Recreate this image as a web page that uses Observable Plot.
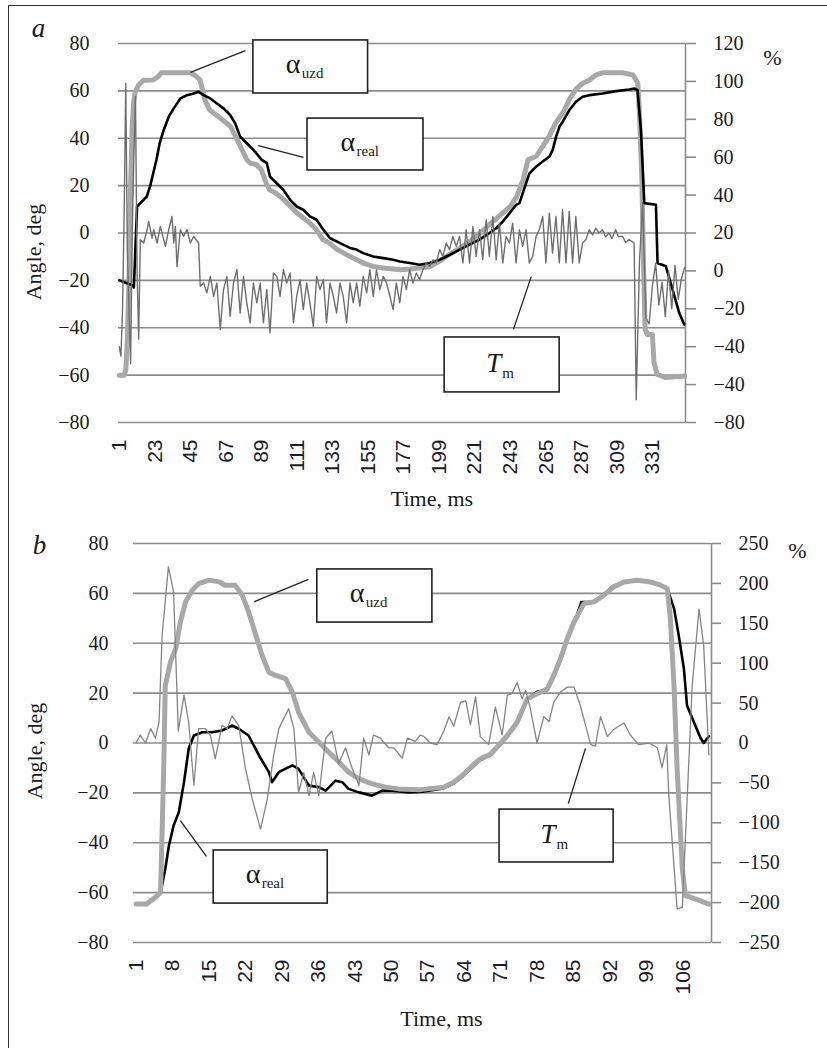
<!DOCTYPE html>
<html><head><meta charset="utf-8">
<script src="https://cdn.jsdelivr.net/npm/d3@7"></script>
<script src="https://cdn.jsdelivr.net/npm/@observablehq/plot@0.6"></script>
<style>
body{margin:0;background:#fff;}
#fig{position:relative;width:827px;height:1048px;overflow:hidden;background:#fff;}
#border{position:absolute;left:8px;top:5px;width:900px;height:1100px;border-left:1.5px solid #333;border-top:1.5px solid #333;pointer-events:none;}
.panel{position:absolute;left:0;}
</style></head><body>
<div id="fig"><div id="pa" class="panel" style="top:0"></div><div id="pb" class="panel" style="top:515px"></div><div id="border"></div></div>
<script>
// ---------- Panel a data ----------
const aTicksX = [1,23,45,67,89,111,133,155,177,199,221,243,265,287,309,331];
const leftTicks = [-80,-60,-40,-20,0,20,40,60,80];
const leftLabels = ["−80","−60","−40","−20","0","20","40","60","80"];
const aRightVals = [120,100,80,60,40,20,0,-20,-40,-60,-80];
const aRightLabels = ["120","100","80","60","40","20","0","−20","−40","−40","−80"];

const aUzdT = [1,4,5,6,7,8,9,10,11,13,16,22,25,27,45,48,51,52,54,57,61,65,70,72,74,77,80,82,86,89,92,94,98,103,107,111,115,119,123,127,131,136,140,144,152,158,164,175,181,193,199,205,212,218,224,230,236,243,247,251,254,259,263,267,271,276,280,284,288,292,296,300,313,319,322,323,324.5,325.5,326.5,328,331,332,334,339,351];
const aUzdV = [-60,-60,-58,-45,-20,20,45,56,60,62.5,64.5,64.6,66,67.6,67.6,66.5,64.6,61.8,56.2,51.9,49.8,47.7,44.9,42.1,39.3,35.1,30.9,29.5,28.8,26.6,21,18.2,16.8,14,11.2,8.4,6.3,4.2,1.4,-2.8,-4.2,-7,-8.5,-9.9,-12.7,-14.1,-14.8,-15.5,-15.2,-14.3,-12,-9.2,-6.3,-3.5,-0.3,3.5,7,11.2,15.4,22.4,30.9,32.3,36.5,40.7,46.3,51.2,56.8,61,63.2,64.6,66.7,67.6,67.6,66.7,63.2,50.5,22.4,-12.7,-40.7,-42.9,-42.9,-54.8,-59.7,-61,-60.4];

const aRealT = [1,5,9,10,12,14,18,20,22,24,26,28.5,31.6,34.7,38.8,42.9,47,50.1,53.2,57.3,61.4,65.5,69.6,72.7,75.8,79.9,84,89.2,92.3,94.3,98.4,102.6,106.7,110.8,114.9,119,123.1,127.3,131.4,135.5,139.6,143.8,147.8,152,158.2,164.4,170.6,174.6,180.8,186.9,193.1,199.3,205.5,211.7,217.8,224,230.2,234.5,238.5,242.6,246.7,248.7,252.8,254.9,259,263.1,267.3,269.3,271.4,273.5,275.5,279.6,283.7,287.8,292,300.2,308.5,316.7,319.8,321.8,323.9,326,333.2,334.2,339.3,343.5,347.6,350.7];
const aRealV = [-20,-21,-22,-23,11.2,12.6,15.4,19.6,25.2,30.9,37.9,43.5,49.1,52.6,56.8,58.2,58.9,59.6,58.2,56.8,54.7,52.6,49.8,46.3,40.7,37.9,35.1,30.9,29.5,23.8,21,18.2,14,11.2,9.8,7,5.6,1.4,-2.1,-3.5,-4.9,-6.3,-7,-8.5,-9.9,-10.6,-11.3,-12,-12.7,-13.4,-12.7,-11.3,-9.2,-7,-4.9,-2.8,0,2.1,4.9,8.4,11.9,12.6,21,25.2,28,30.2,32.3,35.1,40.7,44.9,47,51.9,55.4,57.5,58.2,58.9,59.9,60.6,61,60.3,43.5,12.6,11.9,-12.7,-14,-23.9,-33.7,-38.6];

const aTmT = [1,2,3,4,5,6,7,8,9,10,11,12,13,14,16.1,18.2,19.2,21.3,22.3,24.4,26.4,28.5,29.5,31.6,33.6,34.7,35.7,36.7,38.8,40.8,42.9,45,47,50.1,51.1,53.2,55.2,57.3,59.4,61.4,63.5,65.5,67.6,69.6,71.7,73.8,75.8,77.9,79.9,82,84,86.1,88.2,90.2,92.3,94.3,96.4,98.5,100.5,102.6,104.6,106.7,108.8,110.8,112.9,114.9,117,119,121.1,123.2,125.2,127.3,129.3,131.4,133.5,135.5,137.6,139.6,141.7,143.8,145.8,147.9,149.9,152,154.1,156.1,158.2,160.2,162.3,164.4,166.4,168.5,170.5,172.5,174.6,176.6,178.7,180.7,182.8,184.9,186.9,189,191,193.1,195.2,197.2,199.3,201.3,203.4,205.4,207.5,209.6,211.6,213.7,215.7,217.8,219.9,221.9,224,226,228.1,230.1,232.2,234.3,236.3,238.4,240.4,242.5,244.5,246.6,248.7,250.7,252.8,254.8,256.9,259,261,263.1,265.1,267.2,269.2,271.3,273.4,275.4,277.5,279.5,281.6,283.6,285.7,287.8,289.8,291.9,294,296,298,300.1,302,304.2,306,308.3,310,312.5,314.5,316.6,319.7,321,323,325,327,329,331,333,335,337,339,341,343,345,347,349,351];
const aTmV = [-40,-45,-20,30,99,10,-20,-49,20,60,92,0,-36,16.5,14.7,21.7,26.1,17.3,21.7,14.7,23.5,16.5,13,21.7,28.7,14.7,23.5,2.4,21.7,18.2,21.7,14.7,18.2,14.7,-8.1,-6.4,-11.6,-2.9,-13.4,-6.4,-30.9,-9.9,-2.9,-23.9,-6.4,0.7,-22.2,-2.9,-16.9,-27.4,-6.4,-16.9,-6.4,-27.4,-9.9,-32.7,-1.1,-2.9,-13.4,0.7,-6.4,-1.1,-27.4,-13.4,-4.6,-20.4,-6.4,-16.9,-29.2,-2.9,-9.9,-4.6,-27.4,-6.4,-13.4,-22.2,-6.4,-13.4,-27.4,-6.4,-16.9,-6.4,-18.6,-2.9,-11.6,0.7,-13.4,0.7,-9.9,-2.9,-6.4,-13.4,-20.4,-6.4,-16.9,-2.9,-9.9,0.7,-6.4,-1.1,-4.6,0.7,4.2,2.4,5.9,4.2,11.2,7.7,14.7,11.2,18.2,13,18.2,4.2,21.7,4.2,23.5,7.7,21.7,5.9,27,7.7,28.7,5.9,25.2,4.2,18.2,14.7,25.2,4.2,21.7,13,21.7,4.2,7.7,18.2,21.7,28.7,4.2,30.5,9.4,28.7,4.2,32.3,4.2,31.4,4.2,28.7,4.2,14.7,16.5,21.7,19,22.6,20,21.7,18,20,17,21.7,18,18.2,15,16.5,14.7,-68,5,36,-25,-28,-8,4,-18,-6,-24,0,-20,3,-15,-4,2];

// ---------- Panel b data ----------
const bTicksX = [1,8,15,22,29,36,43,50,57,64,71,78,85,92,99,106];
const bRightVals = [250,200,150,100,50,0,-50,-100,-150,-200,-250];
const bRightLabels = ["250","200","150","100","50","0","−50","−100","−150","−200","−250"];

const bUzdT = [1,3,4.7,5.7,6.3,6.6,7.6,8.6,9.5,10.5,11.8,13,15,17,18,20,21.4,22.6,24,25.2,26.5,27.8,29.7,31,32.2,34.2,36.1,38,40,41.8,43.8,46.3,48.9,51.4,55.6,56.9,60.1,62,64,65.9,67.1,69.1,70.3,72.3,74.2,76.1,78,80,81.2,82.5,83.8,85.1,87,88.9,90.8,92.7,94.7,97.2,99.8,101.7,103,103.6,104.3,104.9,105.9,106.5,107.5,109.4,111];
const bUzdV = [-64.6,-64.6,-61.9,-59.9,-10.4,23.1,32.5,37.8,48.5,56.6,61.3,63.9,65.3,64.6,63.3,63.3,59.2,52.6,43.2,35.1,28.4,27.1,25.8,20.4,12.4,4.3,0.3,-3.7,-7.7,-11.7,-14.4,-16.4,-17.7,-18.4,-18.7,-18.4,-17.7,-15.7,-12.4,-8.4,-6.4,-4.4,-1.7,3,8.4,17.7,19.7,21.8,27.1,33.8,41.8,48.5,55.9,56.6,59.2,62.6,64.6,65.3,64.6,63.3,61.9,49.9,23.1,-10.4,-50.5,-61.2,-61.9,-63.3,-64.6];

const bRealT = [1,3,4.7,5.7,6.6,7.3,8.2,9.2,10.2,11.1,12.1,13.7,15.6,17.5,19.4,20.7,22.6,24.6,26.5,27.1,28.4,31,32.2,34.2,36.1,37.4,39.3,40.6,41.8,43.8,46.3,48.3,50.2,53.4,56,60,62,64,66,67,69,70.3,72.3,74.2,76,78,80,81.2,82.5,83.8,85.1,86.5,88.9,90.8,92.7,94.7,97.2,99.8,101.7,103,104.3,105.2,106.2,106.8,108.1,109.4,110,111];
const bRealV = [-64.6,-64.6,-61.9,-60,-50.5,-41.2,-33.1,-27.8,-15.7,-2.3,3,4.3,4.3,5,7,5.7,3,-5,-11.7,-15.7,-11.7,-9,-10.4,-17.1,-17.7,-19.1,-15.1,-15.7,-18.4,-19.8,-21.1,-19.1,-19.1,-19.8,-19.5,-18.2,-16.2,-12.9,-8.9,-6.9,-4.9,-2.2,2.5,7.9,17.5,20.5,21.3,26.6,33.3,41.3,48,56.5,56.6,59.7,63.1,64.6,65.3,64.6,63.3,61.9,54,43.2,29.8,15,8.4,2,0,2.7];

const bTmT = [1,1.8,2.8,3.8,4.7,5.4,6,7.2,8.2,9.1,10.2,11.1,12.1,13,14.3,15.3,16.2,17.5,18.5,19.4,20.7,22,23.3,24.9,26.2,27.4,28.4,30.3,31.3,32.2,33.2,34.2,35.1,36.1,37.4,38.6,39.9,41.2,42.5,43.8,44.7,45.7,46.6,47.9,49.5,50.5,52.1,53.1,54.6,55.6,56.3,57.5,58.8,60.1,61.1,62,63.3,64.3,65.2,66.2,67.1,68.7,70,71.3,72.3,73.2,74.2,75.1,75.8,76.7,78,79.3,80.3,81.2,82.5,83.8,85.1,86.3,88.3,89.2,90.2,91.5,92.7,94.7,95.9,97.5,99.5,101.1,102,102.9,103.3,104.9,105.9,106.8,107.8,109.1,110,111];
const bTmV = [0,10,0,18,6,26,135,221,189,15,60,26,-53,18,18,9,-20,22,18,34,22,-32,-70,-108,-70,-16,18,43,18,-62,-37,-66,-37,-66,6,15,-26,-6,-32,-53,6,-15,10,6,-6,-6,-19,6,2,10,8,0,-2,15,33,21,51,53,23,58,8,-2,45,10,60,62,76,55,66,43,0,33,27,51,64,70,70,47,-2,-4,33,8,17,25,10,-2,0,-6,-31,-2,-66,-208,-206,-74,72,168,122,-15];

// ---------- Callouts (data coordinates) ----------
const notesA = [
  {main:"α", sub:"uzd", italic:false, bx1:84, bx2:155, by1:81.3, by2:58.9, lx1:79, ly1:77, lx2:45, ly2:67.8},
  {main:"α", sub:"real", italic:false, bx1:117.5, bx2:189.3, by1:48.3, by2:26.4, lx1:115, ly1:31.9, lx2:87, ly2:36.9},
  {main:"T", sub:"m", italic:true, bx1:202.4, bx2:273.6, by1:-44.1, by2:-67.3, lx1:245, ly1:-40.7, lx2:256, ly2:-18.4}
];
const notesB = [
  {main:"α", sub:"uzd", italic:false, bx1:35.8, bx2:57.9, by1:69.6, by2:48.3, lx1:34.1, ly1:65.6, lx2:23.7, ly2:56.7},
  {main:"α", sub:"real", italic:false, bx1:15.9, bx2:37.8, by1:-43.1, by2:-64.4, lx1:14.5, ly1:-45.5, lx2:9.5, ly2:-31.1},
  {main:"T", sub:"m", italic:true, bx1:70.8, bx2:92.7, by1:-26.7, by2:-47.9, lx1:87.3, ly1:-2.2, lx2:84, ly2:-24.3}
];

const SERIF = "'Liberation Serif', 'DejaVu Serif', serif";
const SANS = "'Liberation Sans', Arial, sans-serif";
const GRID = "#8c8c8c";
const INK = "#1a1a1a";

function makePanel(c) {
  const rightPos = c.rightVals.map(c.toLeft);
  const fmtRight = d => c.rightLabels[d3.minIndex(rightPos, p => Math.abs(p - d))];
  const fmtLeft = d => leftLabels[d3.minIndex(leftTicks, p => Math.abs(p - d))];
  const cx = d => (d.bx1 + d.bx2) / 2, cy = d => (d.by1 + d.by2) / 2;
  const isGreek = d => !d.italic, isItal = d => d.italic;
  const uzdLine = Plot.line(c.uzdV, {x: c.uzdT, y: c.uzdV, stroke: "#a8a8a8", strokeWidth: 5, strokeLinejoin: "round"});
  const realLine = Plot.line(c.realV, {x: c.realT, y: c.realV, stroke: "#000", strokeWidth: 2.6, strokeLinejoin: "round"});
  return Plot.plot({
    width: 827, height: c.height,
    marginLeft: c.ml, marginRight: c.mr, marginTop: c.mt, marginBottom: c.mb,
    style: {background: "transparent", fontFamily: SERIF, fontSize: "20px", color: INK},
    x: {domain: c.xDomain, label: null},
    y: {domain: [-80, 80], label: null},
    marks: [
      Plot.gridY(leftTicks, {stroke: GRID, strokeOpacity: 1, strokeWidth: 1.6}),
      Plot.ruleX([c.xDomain[1]], {y1: -80, y2: 80, stroke: GRID, strokeWidth: 1.6}),
      Plot.axisY(leftTicks, {anchor: "left", tickSize: 0, tickPadding: c.leftPad, tickFormat: fmtLeft, fontSize: 20, fontFamily: SERIF, fill: INK}),
      Plot.axisY(rightPos, {anchor: "right", tickSize: c.rTick, tickPadding: 18, tickFormat: fmtRight, stroke: GRID, strokeWidth: 1.6, fontSize: 20, fontFamily: SERIF, fill: INK}),
      Plot.axisX(c.xTicks, {anchor: "bottom", tickSize: 0, tickPadding: 17, tickRotate: -90, fontFamily: SANS, fontSize: 21, fill: "#1c1c2c"}),
      ...(c.grayOnTop ? [realLine, uzdLine] : [uzdLine, realLine]),
      Plot.line(c.tmV, {x: c.tmT, y: c.tmV.map(c.toLeft), stroke: c.tmColor, strokeWidth: c.tmWidth}),
      Plot.link(c.notes, {x1: "lx1", y1: "ly1", x2: "lx2", y2: "ly2", stroke: "#222", strokeWidth: 1.3}),
      Plot.rect(c.notes, {x1: "bx1", x2: "bx2", y1: "by1", y2: "by2", fill: "white", stroke: "#222", strokeWidth: 1.6}),
      Plot.text(c.notes, {filter: isGreek, x: cx, y: cy, text: "main", textAnchor: "start", lineAnchor: "bottom", dx: -25, dy: 6, fontSize: 28, fontFamily: SERIF, fill: INK}),
      Plot.text(c.notes, {filter: isGreek, x: cx, y: cy, text: "sub", textAnchor: "start", lineAnchor: "bottom", dx: -9, dy: 11, fontSize: 15, fontFamily: SERIF, fill: INK}),
      Plot.text(c.notes, {filter: isItal, x: cx, y: cy, text: "main", textAnchor: "start", lineAnchor: "bottom", dx: -16, dy: 7, fontSize: 27, fontStyle: "italic", fontFamily: SERIF, fill: INK}),
      Plot.text(c.notes, {filter: isItal, x: cx, y: cy, text: "sub", textAnchor: "start", lineAnchor: "bottom", dx: 0, dy: 13, fontSize: 15, fontFamily: SERIF, fill: INK}),
      Plot.text(["Angle, deg"], {text: d => d, frameAnchor: "left", textAnchor: "middle", lineAnchor: "middle", rotate: -90, dx: c.yTitleDx, dy: c.yTitleDy, fontSize: 22, fontFamily: SERIF, fill: INK}),
      Plot.text(["Time, ms"], {text: d => d, frameAnchor: "bottom", textAnchor: "middle", lineAnchor: "middle", dx: c.xTitleDx, dy: 76, fontSize: 22, fontFamily: SERIF, fill: INK}),
      Plot.text(["%"], {text: d => d, frameAnchor: "top-right", textAnchor: "middle", lineAnchor: "middle", dx: c.pctDx, dy: c.pctDy, fontSize: 22, fontFamily: SERIF, fill: INK}),
      Plot.text([c.letter], {text: d => d, frameAnchor: "top-left", textAnchor: "middle", lineAnchor: "bottom", dx: c.letterDx, dy: c.letterDy, fontSize: 27, fontStyle: "italic", fontFamily: SERIF, fill: INK})
    ]
  });
}

document.getElementById("pa").append(makePanel({
  height: 515, ml: 118, mr: 142, mt: 43, mb: 93,
  xDomain: [0.5, 351.5], xTicks: aTicksX,
  rightVals: aRightVals, rightLabels: aRightLabels, toLeft: p => -80 + (p + 80) * 0.8,
  leftPad: 29, rTick: 10, grayOnTop: false,
  uzdT: aUzdT, uzdV: aUzdV, realT: aRealT, realV: aRealV, tmT: aTmT, tmV: aTmV,
  tmColor: "#6f6f6f", tmWidth: 1.4, notes: notesA,
  yTitleDx: -85, yTitleDy: 19, xTitleDx: 30, pctDx: 87, pctDy: 14,
  letter: "a", letterDx: -80, letterDy: -7
}));

document.getElementById("pb").append(makePanel({
  height: 533, ml: 133, mr: 116, mt: 28, mb: 106,
  xDomain: [0.5, 111.5], xTicks: bTicksX,
  rightVals: bRightVals, rightLabels: bRightLabels, toLeft: p => p / 3.125,
  leftPad: 25, rTick: 9, grayOnTop: true,
  uzdT: bUzdT, uzdV: bUzdV, realT: bRealT, realV: bRealV, tmT: bTmT, tmV: bTmV,
  tmColor: "#858585", tmWidth: 1.3, notes: notesB,
  yTitleDx: -99, yTitleDy: 8, xTitleDx: 19, pctDx: 86, pctDy: 7,
  letter: "b", letterDx: -94, letterDy: 10
}));
</script>
</body></html>
